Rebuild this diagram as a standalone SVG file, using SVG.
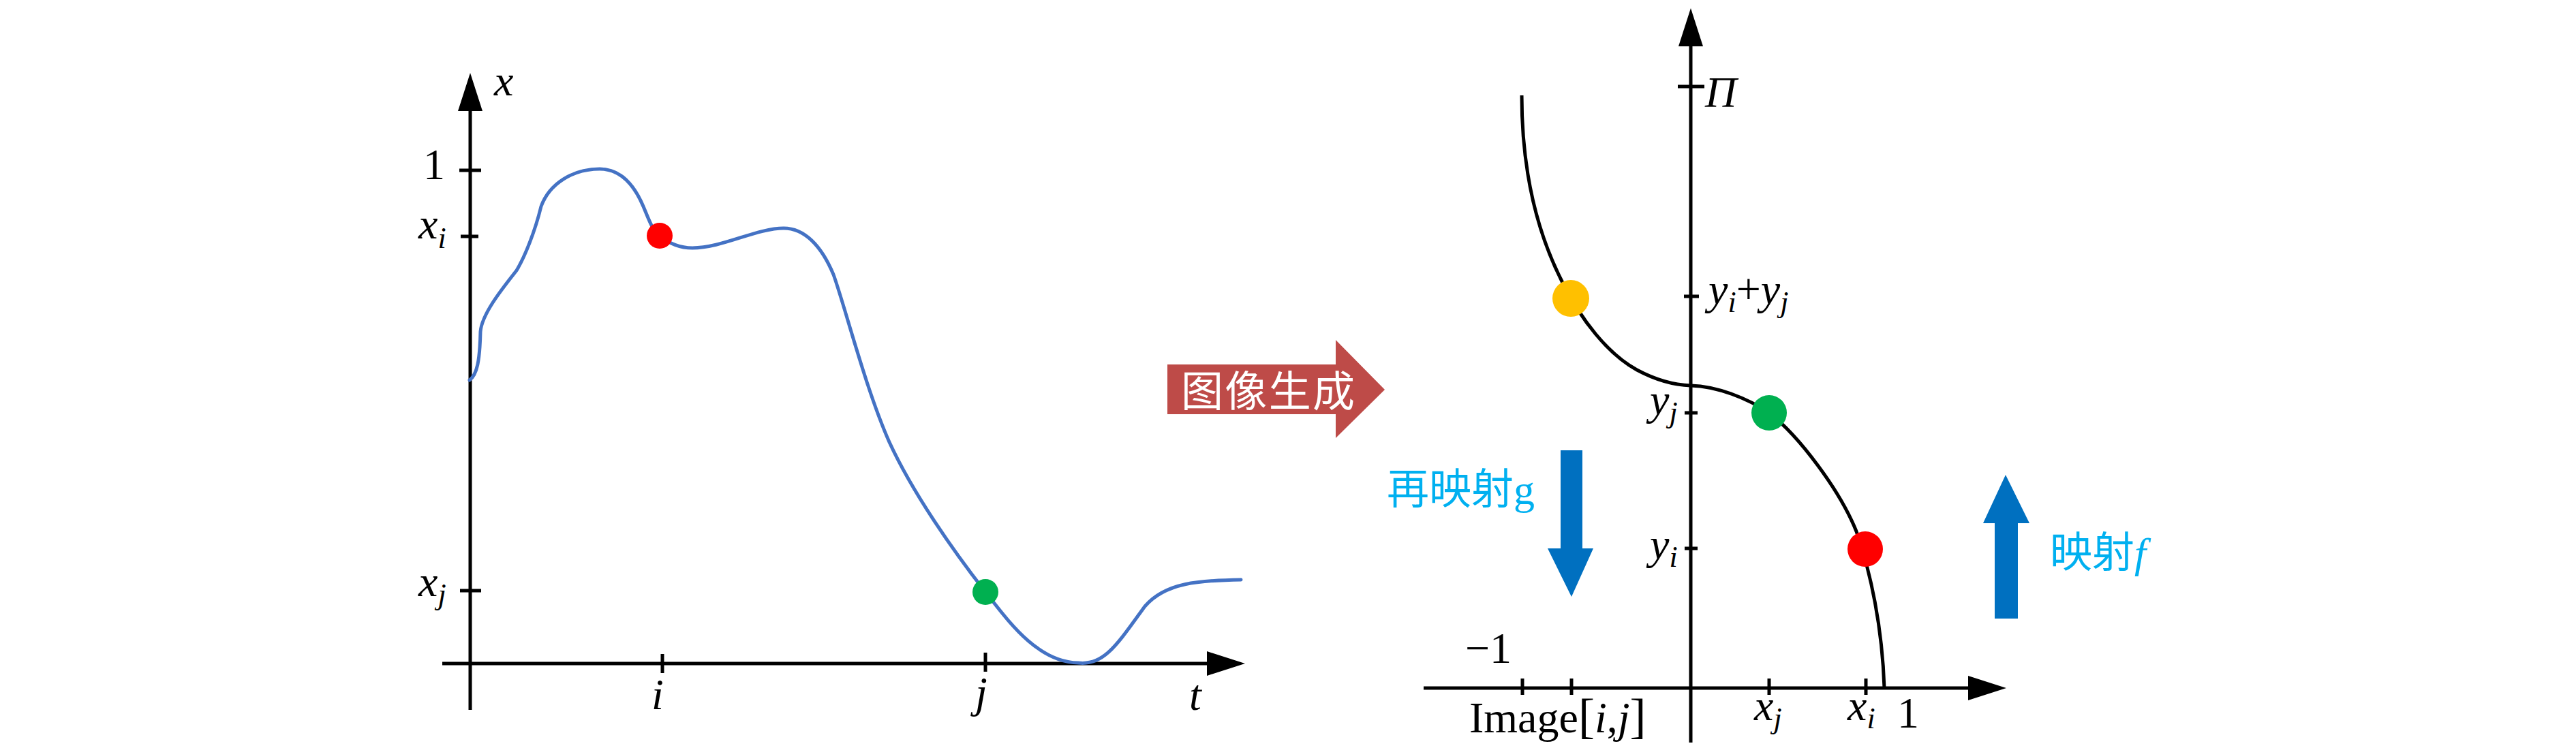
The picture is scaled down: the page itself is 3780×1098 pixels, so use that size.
<svg xmlns="http://www.w3.org/2000/svg" width="3780" height="1098" viewBox="0 0 3780 1098">
<defs>
<style>
.ax{stroke:#000;stroke-width:5;fill:none}
.tk{stroke:#000;stroke-width:5;fill:none}
.m{font-family:"Liberation Serif","DejaVu Serif",serif;font-style:italic;font-size:64px;fill:#000}
.r{font-family:"Liberation Serif","DejaVu Serif",serif;font-size:64px;fill:#000}
.sub{font-size:44px}
.cj{font-family:"Liberation Serif","Noto Sans CJK SC",serif;font-size:62px}
.blue{fill:#0070C0}
</style>
<marker id="ah" markerUnits="userSpaceOnUse" markerWidth="56" markerHeight="36" refX="6" refY="18" orient="auto">
<path d="M0,0 L56,18 L0,36 z" fill="#000"/>
</marker>
</defs>
<rect width="3780" height="1098" fill="#fff"/>

<g id="connectors">
<line class="ax" x1="690" y1="1042" x2="690" y2="157" marker-end="url(#ah)"/>
<line class="ax" x1="649" y1="974" x2="1777" y2="974" marker-end="url(#ah)"/>
<line class="ax" x1="2481" y1="1090" x2="2481" y2="62" marker-end="url(#ah)"/>
<line class="ax" x1="2089" y1="1010" x2="2894" y2="1010" marker-end="url(#ah)"/>
</g>

<g id="left-ticks">
<line class="tk" x1="674" y1="250" x2="706" y2="250"/>
<line class="tk" x1="676" y1="347" x2="702" y2="347"/>
<line class="tk" x1="675" y1="867" x2="706" y2="867"/>
<line class="tk" x1="972" y1="960" x2="972" y2="988"/>
<line class="tk" x1="1446" y1="958" x2="1446" y2="986"/>
</g>

<g id="left-labels">
<text class="m" x="725" y="140">x</text>
<text class="r" x="637" y="263" text-anchor="middle">1</text>
<text class="m" x="614" y="350">x<tspan class="sub" dy="14">i</tspan></text>
<text class="m" x="614" y="875">x<tspan class="sub" dy="12">j</tspan></text>
<text class="m" x="965" y="1041" text-anchor="middle">i</text>
<text class="m" x="1440" y="1038" text-anchor="middle">j</text>
<text class="m" x="1745" y="1042">t</text>
</g>

<g id="left-curve">
<path d="M689,558 C700,550 704,530 705,487 C707,460 740,420 758,397 C770,377 785,340 794,303 C806,270 840,248 880,248 C910,248 930,270 944,303 C952,322 958,340 968,346 C980,356 995,364 1016,364 C1060,364 1110,335 1150,335 C1180,335 1205,360 1223,403 C1240,450 1270,570 1305,649 C1340,725 1400,810 1446,869 C1475,905 1520,972 1582,973 C1620,978 1640,945 1680,890 C1710,855 1760,852 1821,851" fill="none" stroke="#4472C4" stroke-width="5" stroke-linecap="round"/>
</g>

<g id="dot-left-red"><circle cx="968" cy="346" r="19" fill="#FF0000"/></g>
<g id="dot-left-green"><circle cx="1446" cy="869" r="19" fill="#00B050"/></g>

<g id="node-image-gen">
<polygon points="1713,535 1960,535 1960,499 2032,572 1960,643 1960,608 1713,608" fill="#BE4B48"/>
<text class="cj" x="1733" y="597" fill="#fff" textLength="255">图像生成</text>
</g>

<g id="right-ticks">
<line class="tk" x1="2462" y1="127" x2="2501" y2="127"/>
<line class="tk" x1="2471" y1="435" x2="2493" y2="435"/>
<line class="tk" x1="2472" y1="606" x2="2491" y2="606"/>
<line class="tk" x1="2472" y1="805" x2="2491" y2="805"/>
<line class="tk" x1="2234" y1="996" x2="2234" y2="1020"/>
<line class="tk" x1="2306" y1="996" x2="2306" y2="1020"/>
<line class="tk" x1="2596" y1="996" x2="2596" y2="1020"/>
<line class="tk" x1="2738" y1="996" x2="2738" y2="1020"/>
</g>

<g id="right-labels">
<text class="m" x="2502" y="157">Π</text>
<text class="m" x="2507" y="446">y<tspan class="sub" dy="12">i</tspan><tspan class="r" dy="-12" font-style="normal">+</tspan>y<tspan class="sub" dy="12">j</tspan></text>
<text class="m" x="2421" y="608">y<tspan class="sub" dy="12">j</tspan></text>
<text class="m" x="2421" y="820">y<tspan class="sub" dy="12">i</tspan></text>
<text class="r" x="2150" y="973">−1</text>
<text class="r" x="2156" y="1075">Image<tspan font-size="72">[</tspan><tspan font-style="italic">i</tspan>,<tspan font-style="italic">j</tspan><tspan font-size="72">]</tspan></text>
<text class="m" x="2574" y="1057">x<tspan class="sub" dy="12">j</tspan></text>
<text class="m" x="2711" y="1057">x<tspan class="sub" dy="12">i</tspan></text>
<text class="r" x="2784" y="1068">1</text>
</g>

<g id="right-curve">
<path d="M2233,140 C2233,250 2255,340 2292,413 C2320,470 2360,520 2402,543 C2430,558 2455,565 2481,566 C2520,567 2565,585 2596,606 C2640,640 2700,720 2724,780 C2745,840 2762,920 2765,1010" fill="none" stroke="#000" stroke-width="5"/>
</g>

<g id="dot-right-yellow"><circle cx="2305" cy="438" r="27" fill="#FFC000"/></g>
<g id="dot-right-green"><circle cx="2596" cy="606" r="26" fill="#00B050"/></g>
<g id="dot-right-red"><circle cx="2737" cy="806" r="26" fill="#FF0000"/></g>

<g id="node-remap-g">
<polygon class="blue" points="2290,661 2322,661 2322,805 2338,805 2306,876 2271,805 2290,805"/>
<text class="cj" x="2035" y="740" fill="#00B0F0">再映射g</text>
</g>

<g id="node-map-f">
<polygon class="blue" points="2927,908 2961,908 2961,768 2978,768 2943,697 2910,768 2927,768"/>
<text class="cj" x="3008" y="833" fill="#00B0F0">映射<tspan font-style="italic">f</tspan></text>
</g>
</svg>
